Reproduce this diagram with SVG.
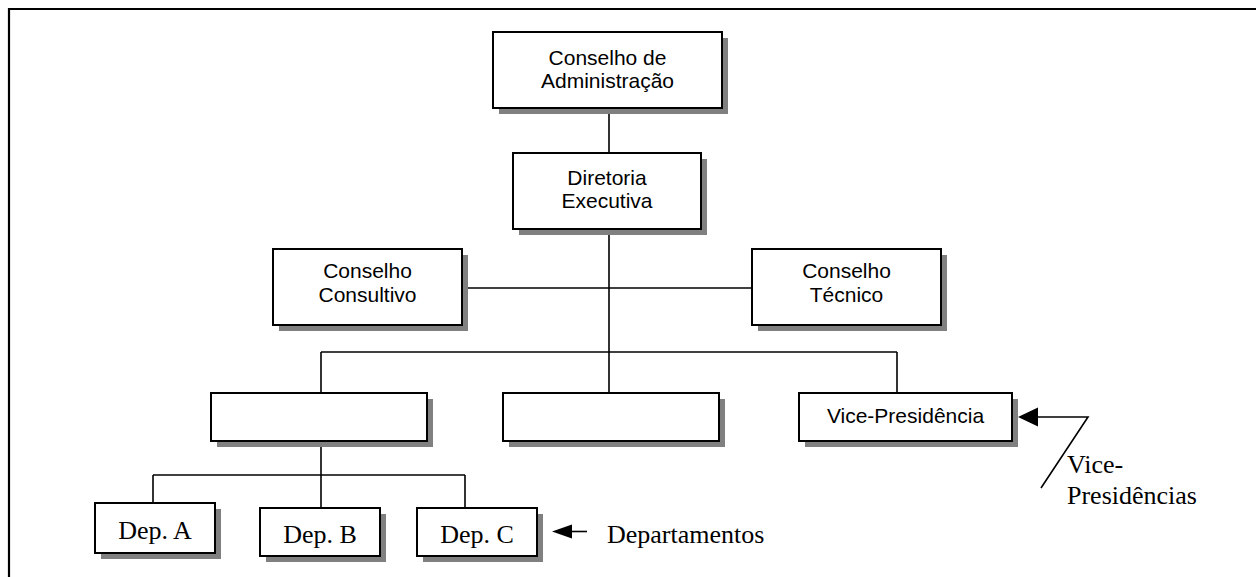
<svg xmlns="http://www.w3.org/2000/svg" width="1256" height="577" viewBox="0 0 1256 577">
  <style>
    .box { fill: #ffffff; stroke: #000000; stroke-width: 2; }
    .shadow { fill: #808080; }
    .line { stroke: #000000; stroke-width: 1.6; fill: none; }
    .frame { stroke: #000000; stroke-width: 2.2; fill: none; }
    .sans { font-family: "Liberation Sans", Arial, sans-serif; font-size: 21px; fill: #000000; text-anchor: middle; }
    .serif { font-family: "Liberation Serif", "Times New Roman", serif; font-size: 26px; fill: #000000; }
    .head { fill: #000000; }
  </style>

  <!-- page frame: top and left rules -->
  <path class="frame" d="M9 577 V9 H1256"/>

  <!-- connectors -->
  <g id="connectors">
    <line class="line" x1="609" y1="108" x2="609" y2="153"/>
    <line class="line" x1="609" y1="229" x2="609" y2="393"/>
    <line class="line" x1="462" y1="288" x2="752" y2="288"/>
    <line class="line" x1="321" y1="352" x2="897" y2="352"/>
    <line class="line" x1="321" y1="352" x2="321" y2="393"/>
    <line class="line" x1="897" y1="352" x2="897" y2="393"/>
    <line class="line" x1="321" y1="441" x2="321" y2="512"/>
    <line class="line" x1="153" y1="475" x2="465" y2="475"/>
    <line class="line" x1="153" y1="475" x2="153" y2="502"/>
    <line class="line" x1="465" y1="475" x2="465" y2="518"/>
    <!-- Departamentos pointer -->
    <line class="line" x1="570" y1="531.5" x2="587" y2="531.5"/>
    <polygon class="head" points="552,531.5 572,524.5 572,538.5"/>
    <!-- Vice-Presidências pointer -->
    <polyline class="line" points="1036,417 1088,417 1041,488"/>
    <polygon class="head" points="1018,417 1038,407.5 1038,426.5"/>
  </g>

  <g id="conselho-administracao">
    <rect class="shadow" x="499" y="38" width="229" height="76"/>
    <rect class="box" x="493" y="32" width="229" height="76"/>
    <text class="sans" x="607.5" y="65">Conselho de</text>
    <text class="sans" x="607.5" y="87.5">Administração</text>
  </g>

  <g id="diretoria-executiva">
    <rect class="shadow" x="519" y="159" width="188" height="76"/>
    <rect class="box" x="513" y="153" width="188" height="76"/>
    <text class="sans" x="607" y="184.5">Diretoria</text>
    <text class="sans" x="607" y="207.5">Executiva</text>
  </g>

  <g id="conselho-consultivo">
    <rect class="shadow" x="279" y="255" width="189" height="76"/>
    <rect class="box" x="273" y="249" width="189" height="76"/>
    <text class="sans" x="367.5" y="278">Conselho</text>
    <text class="sans" x="367.5" y="301.5">Consultivo</text>
  </g>

  <g id="conselho-tecnico">
    <rect class="shadow" x="758" y="255" width="189" height="76"/>
    <rect class="box" x="752" y="249" width="189" height="76"/>
    <text class="sans" x="846.5" y="278">Conselho</text>
    <text class="sans" x="846.5" y="301.5">Técnico</text>
  </g>

  <g id="unidade-esquerda">
    <rect class="shadow" x="217" y="399" width="216" height="48"/>
    <rect class="box" x="211" y="393" width="216" height="48"/>
  </g>

  <g id="unidade-central">
    <rect class="shadow" x="509" y="399" width="216" height="48"/>
    <rect class="box" x="503" y="393" width="216" height="48"/>
  </g>

  <g id="vice-presidencia">
    <rect class="shadow" x="805" y="399" width="213" height="48"/>
    <rect class="box" x="799" y="393" width="213" height="48"/>
    <text class="sans" x="905.5" y="423">Vice-Presidência</text>
  </g>

  <g id="dep-a">
    <rect class="shadow" x="101" y="509" width="120" height="50"/>
    <rect class="box" x="95" y="503" width="120" height="50"/>
    <text class="serif" x="155" y="539" text-anchor="middle">Dep. A</text>
  </g>

  <g id="dep-b">
    <rect class="shadow" x="266" y="514" width="120" height="48"/>
    <rect class="box" x="260" y="508" width="120" height="48"/>
    <text class="serif" x="320" y="543" text-anchor="middle">Dep. B</text>
  </g>

  <g id="dep-c">
    <rect class="shadow" x="423" y="514" width="120" height="48"/>
    <rect class="box" x="417" y="508" width="120" height="48"/>
    <text class="serif" x="477" y="543" text-anchor="middle">Dep. C</text>
  </g>

  <g id="legendas">
    <text class="serif" x="607" y="543">Departamentos</text>
    <text class="serif" x="1067" y="473">Vice-</text>
    <text class="serif" x="1067" y="504">Presidências</text>
  </g>
</svg>
